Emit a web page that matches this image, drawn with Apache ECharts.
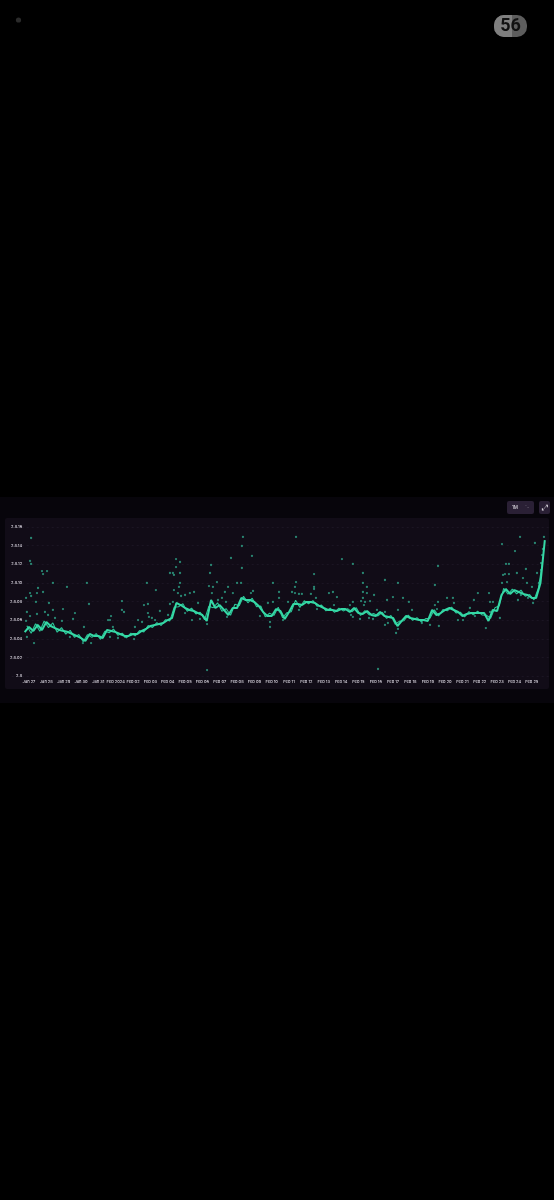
<!DOCTYPE html>
<html><head><meta charset="utf-8">
<style>html,body{margin:0;padding:0;background:#000}#c{width:554px;height:1200px}</style>
<script src="https://cdn.jsdelivr.net/npm/echarts@6/dist/echarts.min.js"></script>
</head><body><div id="c"></div>
<script>
const dayLabels = ['Jan 27','Jan 28','Jan 29','Jan 30','Jan 31','Feb 2024','Feb 02','Feb 03','Feb 04','Feb 05','Feb 06','Feb 07','Feb 08','Feb 09','Feb 10','Feb 11','Feb 12','Feb 13','Feb 14','Feb 15','Feb 16','Feb 17','Feb 18','Feb 19','Feb 20','Feb 21','Feb 22','Feb 23','Feb 24','Feb 25'];
const priceTickLabels = ['2.8','2.8.02','2.8.04','2.8.06','2.8.08','2.8.10','2.8.12','2.8.14','2.8.16'];
const lineStartDay = -0.25;
const lineStepDays = 0.25;
const lineValues = [47.2,52.6,48.3,54.8,49.4,58.0,53.7,51.5,49.4,48.3,47.2,45.1,43.0,40.8,37.6,45.1,43.0,43.0,40.8,49.4,48.3,47.2,45.1,43.0,43.0,45.1,45.1,48.3,50.5,53.7,54.8,55.8,56.9,60.1,62.3,78.4,76.2,73.0,70.9,69.8,67.6,65.5,59.1,81.6,73.0,76.2,70.9,65.5,73.0,73.0,83.8,81.6,81.6,79.5,75.2,68.7,64.4,64.4,71.9,69.8,61.2,68.7,77.3,77.3,76.2,79.5,79.5,78.4,75.2,73.0,70.9,70.9,69.8,71.9,71.9,68.7,73.0,67.6,66.6,69.8,65.5,64.4,68.7,64.4,63.4,62.3,53.7,59.1,64.4,62.3,61.2,60.1,60.1,59.1,70.9,65.5,67.6,70.9,73.0,70.9,68.7,64.4,66.6,67.6,67.6,67.6,67.6,59.1,70.9,69.8,87.0,93.4,88.1,92.3,90.2,88.1,87.0,83.8,83.8,99.9,146.0];
const jitterStartDay = -0.125;
const jitterValues = [54,46,56,48,59,52,57,47,52,45,49,41.5,44.5,36.7,44.4,41.5,45.5,39.4,48,46.4,50.3,43.7,46,41,46,43.1,48.7,47.4,54.1,52.2,57.3,54.3,60.5,59.2,74,74.3,77.6,69.5,72.8,66.7,68.5,60.3,75,73.3,78.6,69.5,72.2,65.2,77,75.4,85.7,78.6,83.5,74.3,75,63.5,67.4,65.1,73.9,62.5,68,69,81.3,73.7,80.8,77.5,81,74.8,76.1,69.9,72.9,68.3,72.9,69.9,72.3,68.9,73.3,65.1,70.2,65.6,67,64.5,68.5,61.9,64.9,55.5,58.9,59.3,65.4,59.8,62.7,58.1,61.6,62,71.2,64.5,71.3,70,74,67.8,68.5,63.5,69.1,65.6,69.6,65.6,65.4,62,73.4,75.4,94.2,87.8,93.2,88.3,92.2,85.6,87.4,81.8,93.9,123];
const outlierPoints = [
[.12,148.2],[.06,123.5],[.12,120.3],[.81,109.5],[1.04,112.7],[.75,112.7],[1.38,99.9],[2.19,95.6],[3.34,99.9],[3.46,77.3],[1.15,78.4],[.40,79.5],[-.17,83.8],[.06,89.1],[.12,85.9],[.52,94.5],[.46,89.1],[.81,90.2],[1.96,71.9],[2.65,67.6],[2.54,61.2],[-.12,68.7],[.46,66.6],[1.38,70.9],[.92,68.7],[1.10,65.5],[.06,64.4],[.29,35.4],[-.12,41.9],[3.17,52.6],[3.58,35.4],[3.11,35.4],[4.09,41.9],[4.56,60.1],[2.36,41.9],[1.50,62.3],[1.90,59.1],[-.17,59.1],[.46,54.8],
[8.48,125.6],[8.71,122.4],[8.48,117.0],[8.13,110.6],[8.30,110.6],[8.36,108.5],[8.71,110.6],[6.80,99.9],[7.32,92.3],[8.71,99.9],[8.65,95.6],[8.36,92.3],[8.59,89.1],[8.77,85.9],[9.00,87.0],[9.28,89.1],[5.36,80.5],[6.63,76.2],[6.86,77.3],[5.36,70.9],[5.48,68.7],[4.73,64.4],[4.67,60.1],[6.86,67.6],[6.92,63.4],[7.55,69.8],[7.09,62.3],[6.29,60.1],[8.13,77.3],[6.11,52.6],[6.52,58.0],[4.84,52.6],[4.67,41.9],[6.06,39.7],[5.13,40.8],[5.54,41.9],[7.27,60.1],[8.02,65.5],[8.30,79.5],[9.00,67.6],[9.40,70.9],
[12.34,149.3],[12.28,139.6],[11.65,126.7],[12.86,128.9],[12.28,116.0],[10.50,119.2],[10.44,110.6],[10.38,96.6],[10.61,95.6],[10.84,100.9],[12.00,99.9],[12.23,99.9],[11.48,95.6],[14.07,99.9],[11.76,89.1],[10.55,89.1],[11.30,90.2],[12.80,89.1],[12.92,91.3],[11.13,83.8],[10.90,81.6],[11.36,79.5],[9.75,78.4],[9.52,90.2],[13.78,78.4],[14.42,83.8],[14.42,90.2],[14.07,79.5],[9.40,60.1],[9.86,61.2],[10.27,55.8],[13.90,52.6],[13.90,58.0],[13.32,64.4],[11.42,63.4],[10.27,61.2],[10.27,6.4],
[15.40,149.3],[18.05,125.6],[18.68,120.3],[19.26,110.6],[16.44,109.5],[15.40,100.9],[15.34,95.6],[16.44,95.6],[16.44,93.4],[15.17,90.2],[15.57,88.1],[15.74,88.1],[16.26,88.1],[17.30,89.1],[17.53,90.2],[17.76,84.8],[14.94,79.5],[16.55,83.8],[15.34,89.1],[19.26,99.9],[19.26,90.2],[19.26,83.8],[18.68,79.5],[18.51,76.2],[14.47,68.7],[14.65,60.1],[17.59,76.2],[16.61,71.9],[15.57,70.9],[18.68,63.4],[18.57,65.5],[19.09,61.2],[19.38,79.5],
[23.59,118.1],[20.53,103.1],[21.28,99.9],[23.41,97.7],[19.49,95.6],[19.49,89.1],[19.90,87.0],[20.99,84.8],[21.57,83.8],[21.91,79.5],[20.65,81.6],[24.11,83.8],[19.67,80.5],[19.15,80.5],[23.59,79.5],[23.41,76.2],[19.32,76.2],[23.53,71.9],[22.09,70.9],[21.28,70.9],[20.53,68.7],[20.07,70.9],[19.61,62.3],[19.84,61.2],[20.53,54.8],[20.70,56.9],[21.17,46.2],[21.28,50.5],[22.66,56.9],[23.13,54.8],[23.64,53.7],[21.97,62.3],[20.13,7.5],
[28.32,149.3],[27.28,141.7],[29.18,142.8],[28.03,134.2],[28.66,114.9],[27.51,120.3],[27.68,120.3],[27.45,109.5],[27.34,108.5],[27.68,109.5],[28.14,110.6],[28.49,105.2],[27.57,100.9],[27.28,99.9],[28.72,99.9],[29.30,110.6],[29.53,121.3],[29.59,129.9],[29.53,113.8],[25.89,89.1],[26.53,89.1],[24.45,83.8],[25.66,81.6],[24.51,78.4],[26.76,79.5],[26.59,79.5],[25.43,73.0],[29.01,95.6],[27.16,62.3],[26.35,51.5],[24.74,60.1],[25.03,60.1],[25.72,64.4],[26.59,68.7],[28.37,87.0],[28.20,81.6],[29.07,78.4],[28.78,83.8],[29.70,149.3],[29.64,136.4],[29.41,99.9]
];
const lineData = lineValues.map((v,i)=>[lineStartDay+i*lineStepDays,v]);
const jitterData = jitterValues.map((v,i)=>[jitterStartDay+i*lineStepDays,v]);
const chart = echarts.init(document.getElementById('c'),null,{renderer:'canvas'});
const FONT='Inter';
chart.setOption({
 animation:false,
 backgroundColor:'#000',
 graphic:[
  {type:'rect',z:-10,shape:{x:0,y:497,width:554,height:206},style:{fill:'#07050b'}},
  {type:'rect',z:-9,shape:{x:5,y:518,width:544,height:171,r:2},style:{fill:'#110c17'}},
  {type:'rect',shape:{x:507,y:501,width:27,height:13,r:2},style:{fill:'#2a2035'}},
  {type:'text',style:{x:512,y:507.5,text:'1M',fill:'#d8d4dc',font:'500 4.5px '+FONT,textVerticalAlign:'middle'}},
  {type:'text',style:{x:527,y:507.5,text:'⌃⌄',fill:'#8f8898',font:'3px '+FONT,textAlign:'center',textVerticalAlign:'middle'}},
  {type:'rect',shape:{x:539,y:501,width:11,height:13,r:2},style:{fill:'#2a2035'}},
  {type:'text',style:{x:544.5,y:507.5,text:'⤢',fill:'#d8d4dc',font:'8px "DejaVu Sans"',textAlign:'center',textVerticalAlign:'middle'}},
  {type:'circle',shape:{cx:18.5,cy:20,r:2.6},style:{fill:'#2b2b2b'}},
  {type:'rect',shape:{x:494,y:15,width:33,height:22,r:10},style:{fill:'#5d5d5d'}},
  {type:'rect',shape:{x:494,y:15,width:18,height:22,r:[10,0,0,10]},style:{fill:'#7f7f7f'}},
  {type:'text',style:{x:510.5,y:26.5,text:'56',fill:'#111',font:'bold 18px Roboto',textAlign:'center',textVerticalAlign:'middle'}}
 ],
 grid:{left:11.66,top:527,width:537.5,height:149,containLabel:false},
 xAxis:{type:'value',min:-1,max:30,interval:1,
  axisLine:{show:false},axisTick:{show:false},splitLine:{show:false},
  axisLabel:{color:'#dcd8e2',fontSize:4,fontWeight:500,fontFamily:FONT,margin:4,showMinLabel:true,showMaxLabel:true,hideOverlap:false,
   formatter:v=>dayLabels[v]||''}},
 yAxis:{type:'value',min:0,max:160,interval:20,offset:-10.5,
  axisLine:{show:false},axisTick:{show:false},
  splitLine:{show:true,lineStyle:{color:'#241d2c',type:[2,3],width:0.6}},
  axisLabel:{color:'#dcd8e2',fontSize:4,fontWeight:500,fontFamily:FONT,margin:0,
   formatter:v=>priceTickLabels[Math.round(v/20)]}},
 series:[
  {type:'scatter',data:outlierPoints,symbolSize:2.3,itemStyle:{color:'#2fa58a',opacity:.8},silent:true,z:2},
  {type:'line',data:jitterData,symbol:'none',lineStyle:{color:'#2cc497',width:1.1},silent:true,z:3},
  {type:'line',data:lineData,symbol:'none',smooth:false,lineStyle:{color:'#35d9a6',width:2},silent:true,z:4}
 ]
});
</script></body></html>
